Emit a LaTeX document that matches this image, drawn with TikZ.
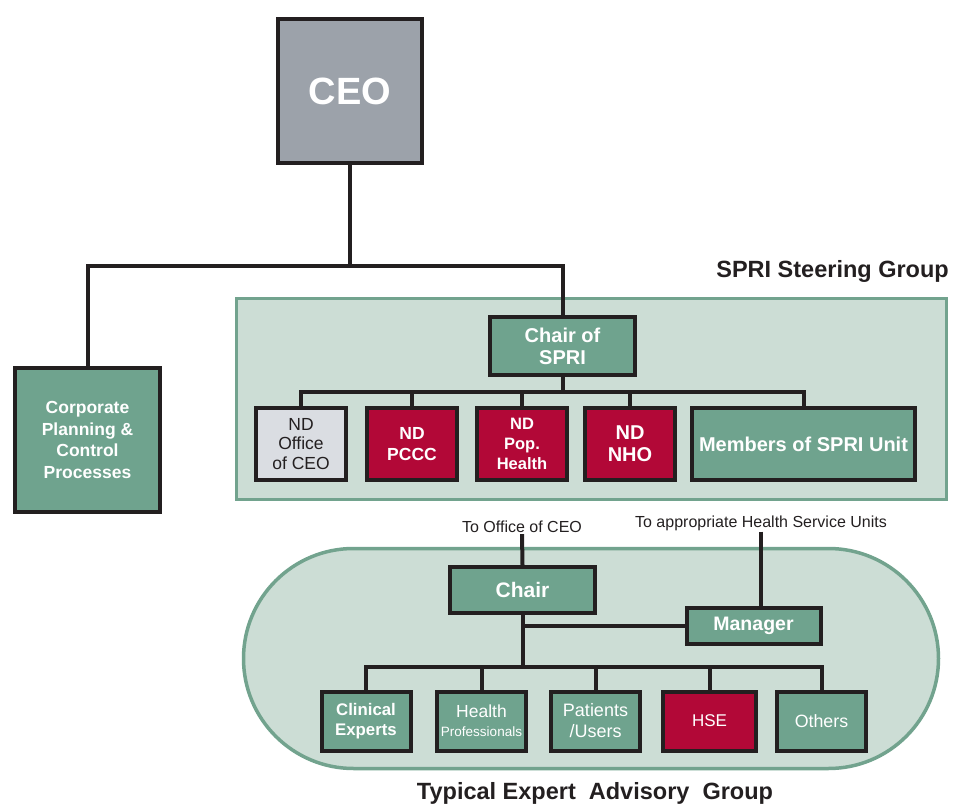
\documentclass[tikz,border=0pt]{standalone}
\usepackage{fontspec}
\setmainfont{Liberation Sans}
\definecolor{boxgreen}{HTML}{6FA38E}
\definecolor{boxred}{HTML}{B20837}
\definecolor{boxlight}{HTML}{DADDE2}
\definecolor{ceogray}{HTML}{9CA2AA}
\definecolor{grpfill}{HTML}{CCDDD5}
\definecolor{grpline}{HTML}{72A38E}
\definecolor{ink}{HTML}{231F20}
\begin{document}
\begin{tikzpicture}[x=1pt,y=-1pt,
  orgbox/.style={draw=ink, line width=4pt, inner sep=1pt, align=center, text=white},
  greenbox/.style={orgbox, fill=boxgreen},
  redbox/.style={orgbox, fill=boxred},
  lightbox/.style={orgbox, fill=boxlight, text=ink},
  grp/.style={draw=grpline, fill=grpfill, line width=3.5pt},
  link/.style={draw=ink, line width=4pt},
  note/.style={text=ink, inner sep=1pt}
]
\useasboundingbox (0,0) rectangle (954,805);

% CEO
\node[orgbox, fill=ceogray, minimum width=144pt, minimum height=144pt, font=\fontsize{38}{40}\selectfont\bfseries] (ceo) at (350,91) {CEO};

% Corporate
\node[greenbox, minimum width=145pt, minimum height=144pt, font=\fontsize{17.5}{21.5}\selectfont\bfseries] (corp) at (87.5,440) {Corporate\\Planning \&\\Control\\Processes};

% Steering group
\node[grp, minimum width=710pt, minimum height=201pt] (steer) at (591.5,399) {};
\node[note, font=\fontsize{23.5}{25}\selectfont\bfseries, anchor=south east] (steerlbl) at (950,284) {SPRI Steering Group};

\node[greenbox, minimum width=145pt, minimum height=58pt, font=\fontsize{20}{22}\selectfont\bfseries] (chairs) at (562.5,346) {Chair of\\SPRI};

\node[lightbox, minimum width=90pt, minimum height=72pt, font=\fontsize{17.5}{19.5}\selectfont] (ndo) at (301,444) {ND\\Office\\of CEO};
\node[redbox, minimum width=90pt, minimum height=72pt, font=\fontsize{17.5}{21}\selectfont\bfseries] (ndp) at (412,444) {ND\\PCCC};
\node[redbox, minimum width=90pt, minimum height=72pt, font=\fontsize{16.5}{20}\selectfont\bfseries] (ndh) at (522,444) {ND\\Pop.\\Health};
\node[redbox, minimum width=90pt, minimum height=72pt, font=\fontsize{20}{22}\selectfont\bfseries] (ndn) at (630,444) {ND\\NHO};
\node[greenbox, minimum width=223pt, minimum height=72pt, font=\fontsize{20}{22}\selectfont\bfseries] (mem) at (803.5,444) {Members of SPRI Unit};

% CEO links
\coordinate (ceoj) at (350,266);
\draw[link] (ceo.south) -- (ceoj);
\draw[link] (corp.north) |- (ceoj) -| (chairs.north);

% Steering tree
\coordinate (sj) at (562.5,392);
\draw[link] (chairs.south) -- (sj);
\draw[link] (ndo.north) |- (mem.north |- sj) -- (mem.north);
\draw[link] (ndp.north) -- (ndp.north |- sj);
\draw[link] (ndh.north) -- (ndh.north |- sj);
\draw[link] (ndn.north) -- (ndn.north |- sj);

% Advisory group
\node[grp, rounded corners=110pt, minimum width=695pt, minimum height=220pt] (adv) at (591,658.5) {};
\node[note, font=\fontsize{23.5}{25}\selectfont\bfseries] (advlbl) at (595,793) {Typical Expert\ \ Advisory\ \ Group};

\node[note, font=\fontsize{16}{18}\selectfont] (tooc) at (522,527) {To Office of CEO};
\node[note, font=\fontsize{16}{18}\selectfont] (tohsu) at (761,523) {To appropriate Health Service Units};

\node[greenbox, minimum width=145pt, minimum height=46pt, font=\fontsize{21}{23}\selectfont\bfseries] (chair) at (522.5,590) {Chair};
\node[greenbox, minimum width=134pt, minimum height=36pt, font=\fontsize{19.5}{22}\selectfont\bfseries] (mgr) at (753.5,626) {Manager};

\node[greenbox, minimum width=89pt, minimum height=59pt, font=\fontsize{16.8}{20}\selectfont\bfseries] (clin) at (366,721) {Clinical\\Experts};
\node[greenbox, minimum width=89pt, minimum height=59pt, font=\fontsize{17.5}{18}\selectfont] (hp) at (481.5,721) {Health\\[1pt]{\fontsize{13.5}{15}\selectfont Professionals}};
\node[greenbox, minimum width=89pt, minimum height=59pt, font=\fontsize{18}{21}\selectfont] (pu) at (595.5,721) {Patients\\/Users};
\node[redbox, minimum width=93pt, minimum height=59pt, font=\fontsize{17}{20}\selectfont] (hse) at (709.5,721) {HSE};
\node[greenbox, minimum width=89pt, minimum height=59pt, font=\fontsize{17.8}{20}\selectfont] (oth) at (821.5,721) {Others};

\draw[link] (tooc.south) -- (chair.north);
\draw[link] (tohsu.south) -- (tohsu.south |- mgr.north);
\coordinate (aj) at (522.5,667);
\draw[link] (chair.south) -- (aj);
\draw[link] (chair.south |- mgr.west) -- (mgr.west);
\draw[link] (clin.north) |- (oth.north |- aj) -- (oth.north);
\draw[link] (hp.north) -- (hp.north |- aj);
\draw[link] (pu.north) -- (pu.north |- aj);
\draw[link] (hse.north) -- (hse.north |- aj);
\end{tikzpicture}
\end{document}
